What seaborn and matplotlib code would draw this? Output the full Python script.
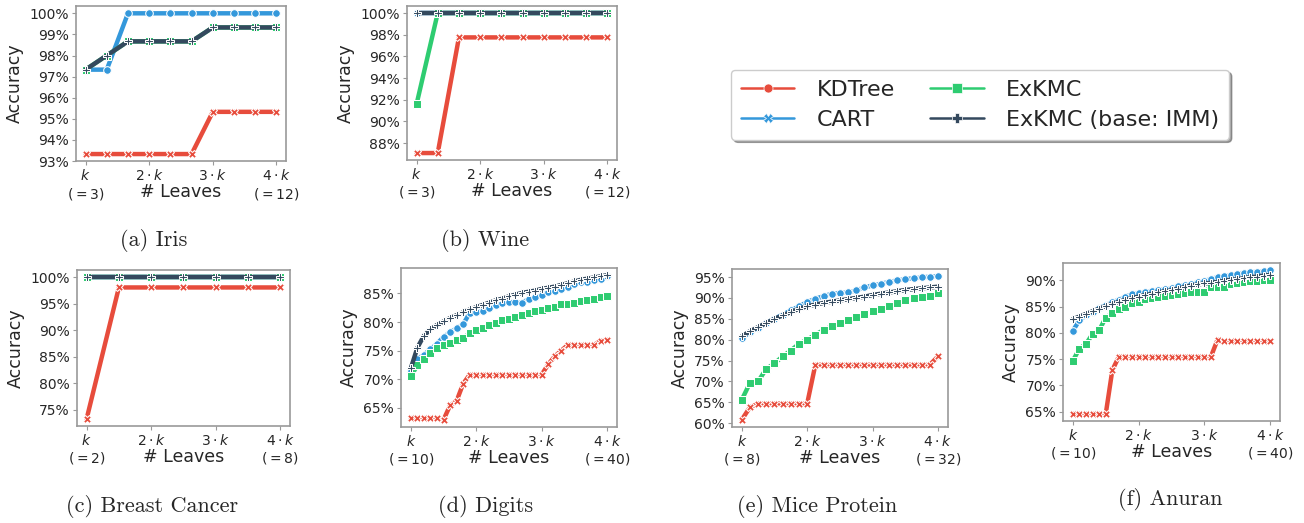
import numpy as np
import pandas as pd
import matplotlib
matplotlib.use("Agg")
import matplotlib.pyplot as plt
from matplotlib.lines import Line2D
from matplotlib.ticker import MultipleLocator, PercentFormatter
import seaborn as sns

# Accuracy (%) per number of leaves
methods = ["KDTree", "CART", "ExKMC", "ExKMC (base: IMM)"]
colors = {"KDTree": "#e74c3c", "CART": "#3498db", "ExKMC": "#2ecc71",
          "ExKMC (base: IMM)": "#34495e"}
plot_markers = {"KDTree": "X", "CART": "o", "ExKMC": "s", "ExKMC (base: IMM)": "P"}
legend_markers = {"KDTree": "o", "CART": "X", "ExKMC": "s", "ExKMC (base: IMM)": "P"}

iris_k = 3
iris_leaves = [3, 4, 5, 6, 7, 8, 9, 10, 11, 12]
iris_kdtree = [93.33, 93.33, 93.33, 93.33, 93.33, 93.33, 95.33, 95.33, 95.33, 95.33]
iris_cart = [97.33, 97.33, 100, 100, 100, 100, 100, 100, 100, 100]
iris_exkmc = [97.33, 98.0, 98.67, 98.67, 98.67, 98.67, 99.33, 99.33, 99.33, 99.33]
iris_imm = [97.33, 98.0, 98.67, 98.67, 98.67, 98.67, 99.33, 99.33, 99.33, 99.33]

wine_k = 3
wine_leaves = [3, 4, 5, 6, 7, 8, 9, 10, 11, 12]
wine_kdtree = [87.08, 87.08, 97.75, 97.75, 97.75, 97.75, 97.75, 97.75, 97.75, 97.75]
wine_cart = [100, 100, 100, 100, 100, 100, 100, 100, 100, 100]
wine_exkmc = [91.57, 100, 100, 100, 100, 100, 100, 100, 100, 100]
wine_imm = [100, 100, 100, 100, 100, 100, 100, 100, 100, 100]

bc_k = 2
bc_leaves = [2, 3, 4, 5, 6, 7, 8]
bc_kdtree = [73.3, 98.07, 98.07, 98.07, 98.07, 98.07, 98.07]
bc_cart = [100, 100, 100, 100, 100, 100, 100]
bc_exkmc = [100, 100, 100, 100, 100, 100, 100]
bc_imm = [100, 100, 100, 100, 100, 100, 100]

digits_k = 10
digits_leaves = list(range(10, 41))
digits_kdtree = [63.2, 63.2, 63.2, 63.2, 63.2, 62.9, 65.4, 66.2, 69.2, 70.8,
                 70.8, 70.8, 70.8, 70.8, 70.8, 70.8, 70.8, 70.8, 70.8, 70.8, 70.8,
                 72.6, 74.0, 75.0, 76.0, 76.0, 76.0, 76.0, 76.0, 76.7, 76.9]
digits_cart = [71.5, 73.5, 74.3, 75.2, 76.2, 77.4, 78.2, 78.9, 79.6, 81.6,
               81.8, 82.0, 82.4, 83.0, 83.4, 83.5, 83.5, 83.4, 84.0, 84.3,
               84.7, 85.2, 85.5, 85.8, 86.2, 86.7, 87.0, 87.0, 87.3, 87.6, 88.0]
digits_exkmc = [70.5, 72.4, 73.5, 74.6, 75.5, 75.9, 76.4, 76.8, 77.2, 78.0,
                78.6, 79.0, 79.4, 79.9, 80.3, 80.6, 80.9, 81.3, 81.6, 81.9,
                82.1, 82.4, 82.7, 83.1, 83.2, 83.4, 83.7, 83.8, 84.1, 84.4, 84.5]
digits_imm = [71.9, 75.5, 77.6, 78.7, 79.5, 80.1, 80.7, 81.2, 81.7, 82.2,
              82.6, 83.0, 83.4, 83.8, 84.1, 84.5, 84.8, 85.1, 85.3, 85.5,
              85.8, 86.0, 86.2, 86.5, 86.8, 87.1, 87.4, 87.6, 87.8, 88.0, 88.2]

mice_k = 8
mice_leaves = list(range(8, 33))
mice_kdtree = [60.8, 63.8, 64.7, 64.7, 64.7, 64.7, 64.7, 64.7, 64.7,
               74.0, 74.0, 74.0, 74.0, 74.0, 74.0, 74.0, 74.0, 74.0, 74.0,
               74.0, 74.0, 74.0, 74.0, 74.0, 76.0]
mice_cart = [80.3, 81.8, 82.8, 84.0, 85.0, 86.0, 87.0, 88.0, 89.0, 89.8,
             90.4, 91.0, 91.2, 91.3, 91.8, 92.5, 93.0, 93.4, 93.8, 94.2,
             94.5, 94.7, 94.9, 95.1, 95.2]
mice_exkmc = [65.6, 69.6, 70.0, 73.0, 74.3, 76.0, 77.4, 79.0, 80.0, 81.2,
              82.3, 83.2, 84.0, 84.7, 85.5, 86.1, 86.8, 87.4, 88.1, 88.9,
              89.6, 90.0, 90.2, 90.4, 91.1]
mice_imm = [80.8, 82.0, 83.0, 84.0, 85.0, 85.8, 86.6, 87.4, 88.0, 88.4,
            88.8, 89.1, 89.4, 89.7, 90.0, 90.3, 90.7, 91.0, 91.3, 91.6,
            91.9, 92.1, 92.3, 92.5, 92.7]

anuran_k = 10
anuran_leaves = list(range(10, 41))
anuran_kdtree = [64.6, 64.6, 64.6, 64.6, 64.6, 64.6, 72.9,
                 75.5, 75.5, 75.5, 75.5, 75.5, 75.5, 75.5, 75.5, 75.5, 75.5,
                 75.5, 75.5, 75.5, 75.5, 75.5, 78.7,
                 78.4, 78.4, 78.4, 78.4, 78.4, 78.4, 78.4, 78.4]
anuran_cart = [80.4, 82.4, 83.3, 84.0, 84.7, 85.3, 85.8, 86.3, 86.9, 87.3,
               87.6, 87.7, 88.0, 88.2, 88.3, 88.5, 88.9, 89.1, 89.3, 89.6,
               89.9, 90.2, 90.6, 90.8, 91.0, 91.2, 91.4, 91.5, 91.6, 91.7, 91.9]
anuran_exkmc = [74.7, 77.0, 77.9, 79.8, 80.5, 82.9, 83.7, 84.6, 85.0, 85.7,
                85.9, 86.4, 86.7, 86.8, 87.0, 87.2, 87.3, 87.6, 87.7, 87.8,
                87.8, 88.7, 88.7, 88.7, 89.3, 89.4, 89.7, 89.8, 89.9, 90.0, 90.0]
anuran_imm = [82.6, 83.1, 83.6, 84.1, 84.6, 85.1, 85.5, 85.9, 86.3, 86.6,
              86.9, 87.2, 87.4, 87.7, 87.9, 88.1, 88.4, 88.7, 89.0, 89.2,
              89.4, 89.5, 89.7, 89.9, 90.1, 90.2, 90.4, 90.6, 90.7, 90.9, 91.0]

sns.set_style("white")
plt.rcParams["font.family"] = ["DejaVu Sans"]

fig = plt.figure(figsize=(13.04, 5.23), dpi=100)


def draw_panel(rect, k, leaves, values, ystep, caption, cap_xy):
    ax = fig.add_axes(rect)
    rows = []
    for m, vals in zip(methods, values):
        for n, v in zip(leaves, vals):
            rows.append({"x": n / k, "acc": v, "method": m})
    df = pd.DataFrame(rows)
    sns.lineplot(data=df, x="x", y="acc", hue="method", style="method",
                 hue_order=methods, style_order=methods, palette=colors,
                 markers=plot_markers, dashes=False, linewidth=3.2,
                 markersize=5.5, legend=False, ax=ax)
    ax.set_xticks([1, 2, 3, 4])
    ax.set_xticklabels([f"$k$\n$(={k})$", r"$2\cdot k$", r"$3\cdot k$",
                        f"$4\\cdot k$\n$(={4 * k})$"])
    ax.yaxis.set_major_locator(MultipleLocator(ystep))
    ax.yaxis.set_major_formatter(PercentFormatter(decimals=0))
    ax.tick_params(labelsize=10, bottom=True, left=True, length=3,
                   color="#999999", pad=2)
    ax.set_xlabel("# Leaves", fontsize=12.5)
    ax.set_ylabel("Accuracy", fontsize=12.5)
    ax.xaxis.set_label_coords(0.5, -0.14)
    for s in ax.spines.values():
        s.set_color("#999999")
        s.set_linewidth(1.2)
    fig.text(cap_xy[0], cap_xy[1], caption, family="cmr10", fontsize=16,
             ha="center", va="center")
    return ax


draw_panel([0.0583, 0.692, 0.161, 0.296], iris_k, iris_leaves,
           [iris_kdtree, iris_cart, iris_exkmc, iris_imm], 1, "(a) Iris", (0.1175, 0.541))
draw_panel([0.3121, 0.694, 0.161, 0.2945], wine_k, wine_leaves,
           [wine_kdtree, wine_cart, wine_exkmc, wine_imm], 2, "(b) Wine", (0.372, 0.541))
draw_panel([0.059, 0.1855, 0.1633, 0.298], bc_k, bc_leaves,
           [bc_kdtree, bc_cart, bc_exkmc, bc_imm], 5, "(c) Breast Cancer", (0.1165, 0.031))
draw_panel([0.3075, 0.1836, 0.1656, 0.304], digits_k, digits_leaves,
           [digits_kdtree, digits_cart, digits_exkmc, digits_imm], 5, "(d) Digits", (0.372, 0.031))
draw_panel([0.5613, 0.1836, 0.1656, 0.302], mice_k, mice_leaves,
           [mice_kdtree, mice_cart, mice_exkmc, mice_imm], 5, "(e) Mice Protein", (0.6265, 0.031))
draw_panel([0.8152, 0.195, 0.1664, 0.302], anuran_k, anuran_leaves,
           [anuran_kdtree, anuran_cart, anuran_exkmc, anuran_imm], 5, "(f) Anuran", (0.8975, 0.044))

handles = [Line2D([0], [0], color=colors[m], marker=legend_markers[m], lw=1.8,
                  markersize=6.5, markeredgecolor="white", markeredgewidth=0.5)
           for m in methods]
fig.legend(handles, methods, loc="center", bbox_to_anchor=(0.7515, 0.8),
           ncol=2, fontsize=16, frameon=True, shadow=True, fancybox=True,
           handlelength=2.4, handletextpad=1.0, columnspacing=1.6,
           labelspacing=0.45, borderpad=0.45, edgecolor="#cccccc")

fig.savefig("out.png", dpi=100, facecolor="white")
